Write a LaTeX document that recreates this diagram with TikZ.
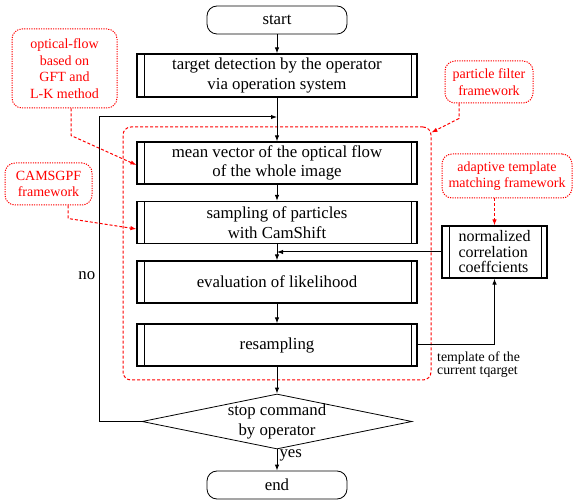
\documentclass[tikz,border=0pt]{standalone}
\usepackage{fontspec}
\setmainfont{Liberation Serif}
\newfontfamily\timesfont{Liberation Serif}
\usetikzlibrary{shapes.geometric,arrows.meta,calc}
\definecolor{fw_red}{rgb}{1,0,0}

\newcommand\mainsize{\timesfont\fontsize{16.8}{19.5}\selectfont}
\newcommand\notesize{\timesfont\fontsize{14}{16.5}\selectfont}

\tikzset{
  proc/.style={draw, line width=1.2pt, minimum width=280pt, minimum height=42pt,
    align=center, font=\mainsize,
    path picture={
      \draw[line width=0.8pt] ([xshift=7pt]path picture bounding box.north west) -- ([xshift=7pt]path picture bounding box.south west);
      \draw[line width=0.8pt] ([xshift=-6pt]path picture bounding box.north east) -- ([xshift=-6pt]path picture bounding box.south east);
    }},
  term/.style={draw, rounded corners=10pt, minimum width=140pt, minimum height=28pt,
    line width=0.8pt, font=\mainsize},
  dec/.style={draw, shape=diamond, minimum width=270pt, minimum height=55pt,
    inner sep=0pt, line width=0.8pt},
  note/.style={draw=fw_red, text=fw_red, dash pattern=on 1.2pt off 1.2pt, line width=1pt,
    rounded corners=10pt, align=center, font=\notesize},
  link/.style={-{Latex[length=6pt,width=4.5pt]}, line width=1pt},
  rlink/.style={-{Latex[length=6pt,width=4.5pt]}, fw_red, dash pattern=on 3pt off 2pt, line width=1pt},
}

\begin{document}
\begin{tikzpicture}[x=1pt, y=-1pt]
    % page size as in the reference
    \useasboundingbox (0,0) rectangle (573,502);

    % particle filter frame
    \node[draw=fw_red, dash pattern=on 3pt off 2pt, rounded corners=8pt, line width=1pt,
      minimum width=308pt, minimum height=253pt] (frame) at (277,253.5) {};

    % main flow
    \node[term] (start) at (277,20) {start};
    \node[proc, minimum height=43pt] (target) at (277,75.5) {target detection by the operator\\via operation system};
    \node[proc] (mean) at (277,163) {mean vector of the optical flow\\of the whole image};
    \node[proc] (samp) at (277,222.5) {sampling of particles\\with CamShift};
    \node[proc] (eval) at (277,282) {evaluation of likelihood};
    \node[proc] (resamp) at (277,345) {resampling};
    \node[dec] (stop) at (277,421.5) {};
    \node[font=\mainsize, align=center] (stoptext) at (277,421.5) {stop command\\by operator};
    \node[term] (end) at (277,485) {end};

    % template matching side
    \node[proc, minimum width=105pt, minimum height=52pt, align=left, inner sep=2pt,
      font=\timesfont\fontsize{16}{15.5}\selectfont] (ncc) at (494.5,252) {normalized\\correlation\\coeffcients};
    \node[font=\timesfont\fontsize{13.8}{13}\selectfont, align=left, anchor=north west, inner sep=0pt]
      (tmpl) at (437,352) {template of the\\current tqarget};

    % red notes
    \node[note, minimum width=105pt, minimum height=79pt] (ofnote) at (64.5,68.5) {optical-flow\\based on\\GFT and\\L-K method};
    \node[note, minimum width=88pt, minimum height=42pt] (pfnote) at (489,82) {particle filter\\framework};
    \node[note, minimum width=87pt, minimum height=42pt] (camnote) at (48.5,184) {CAMSGPF\\framework};
    \node[note, minimum width=130pt, minimum height=44pt] (atnote) at (507,176) {adaptive template\\matching framework};

    % connectors
    \draw[link] (start) -- (target);
    \draw[link] (target) -- (mean);
    \draw[link] (mean) -- (samp);
    \draw[link] (samp) -- (eval);
    \draw[link] (eval) -- (resamp);
    \draw[link] (resamp) -- (stop);
    \draw[link] (stop) -- node[right, pos=0.3, font=\mainsize, inner sep=2pt] {yes} (end);

    % loop back
    \coordinate (loopin) at (277,117);
    \draw[link] (stop.west) -- (99,421.5) -- node[left, pos=0.48, font=\mainsize] {no} (99,117) -- (loopin);

    \draw[link] (ncc.west) -- (ncc.west -| samp.south);
    \draw[link] (resamp.east) -| (ncc.south);

    % red arrows
    \draw[rlink] ([xshift=6.5pt]ofnote.south) -- ++(0,27) -- ([yshift=-2pt]mean.west);
    \draw[rlink] ([xshift=19.5pt]camnote.south) -- ++(0,13) -- ([yshift=-6.5pt]samp.west);
    \draw[rlink] ([xshift=-30pt]pfnote.south) -- ++(0,15) -- ([yshift=-6pt]frame.north east);
    \draw[rlink] (atnote.south -| ncc.north) -- (ncc.north);
\end{tikzpicture}
\end{document}
